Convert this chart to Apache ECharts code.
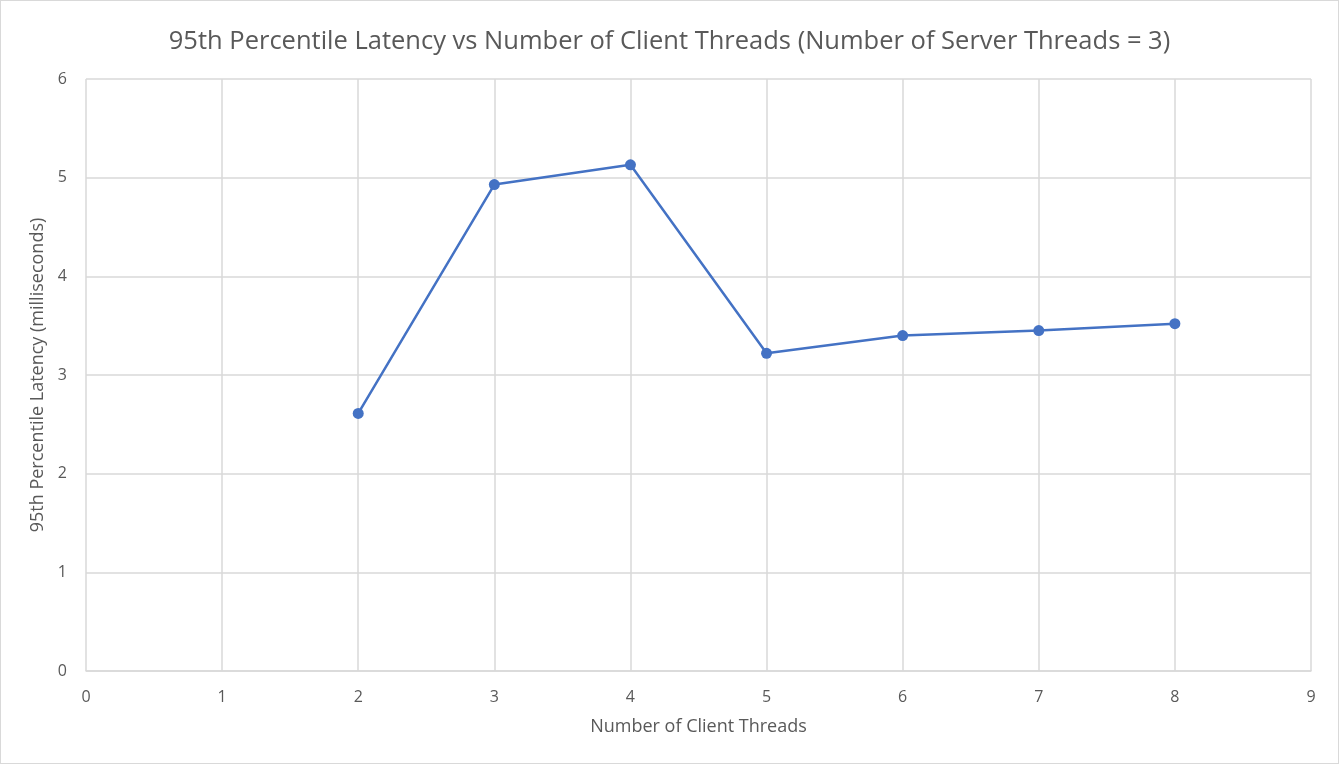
<!DOCTYPE html>
<html lang="en">
<head>
    <meta charset="UTF-8">
    <title>95th Percentile Latency</title>
    <style>
        html, body { margin: 0; padding: 0; background: #fff; }
        #box { width: 1337px; height: 762px; border: 1px solid #d9d9d9; }
    </style>
</head>
<body>
    <div id="box"></div>
</body>
<script src="https://cdn.jsdelivr.net/npm/echarts@6/dist/echarts.min.js"></script>
<script>
    // data
    var clientThreads = [2, 3, 4, 5, 6, 7, 8];
    var latency95 = [2.61, 4.93, 5.13, 3.22, 3.40, 3.45, 3.52];

    var points = clientThreads.map(function (x, i) { return [x, latency95[i]]; });
    var txt = '#595959';
    var font = '"Open Sans", "Liberation Sans", sans-serif';

    var box = echarts.init(document.getElementById('box'));
    box.setOption({
        backgroundColor: '#fff',
        animation: false,
        title: {
            text: '95th Percentile Latency vs Number of Client Threads (Number of Server Threads = 3)',
            left: 'center',
            top: 23,
            textStyle: { color: txt, fontSize: 25.5, fontWeight: 'normal', fontFamily: font }
        },
        grid: { left: 85, right: 27, top: 78, bottom: 92 },
        xAxis: {
            type: 'value',
            min: 0, max: 9, interval: 1,
            name: 'Number of Client Threads',
            nameLocation: 'middle',
            nameGap: 47,
            nameTextStyle: { color: txt, fontSize: 18, fontFamily: font },
            axisLine: { show: true, lineStyle: { color: '#d9d9d9', width: 1.5 } },
            axisTick: { show: false },
            axisLabel: { color: txt, fontSize: 16, margin: 18, fontFamily: font },
            splitLine: { show: true, lineStyle: { color: '#d9d9d9', width: 1.5 } }
        },
        yAxis: {
            type: 'value',
            min: 0, max: 6, interval: 1,
            name: '95th Percentile Latency (milliseconds)',
            nameLocation: 'middle',
            nameGap: 36,
            nameTextStyle: { color: txt, fontSize: 18, fontFamily: font },
            axisLine: { show: false },
            axisTick: { show: false },
            axisLabel: { color: txt, fontSize: 16, margin: 19, fontFamily: font },
            splitLine: { show: true, lineStyle: { color: '#d9d9d9', width: 1.5 } }
        },
        series: [{
            type: 'line',
            data: points,
            symbol: 'circle',
            symbolSize: 11,
            lineStyle: { color: '#4472C4', width: 2.5 },
            itemStyle: { color: '#4472C4' }
        }]
    });
</script>
</html>
